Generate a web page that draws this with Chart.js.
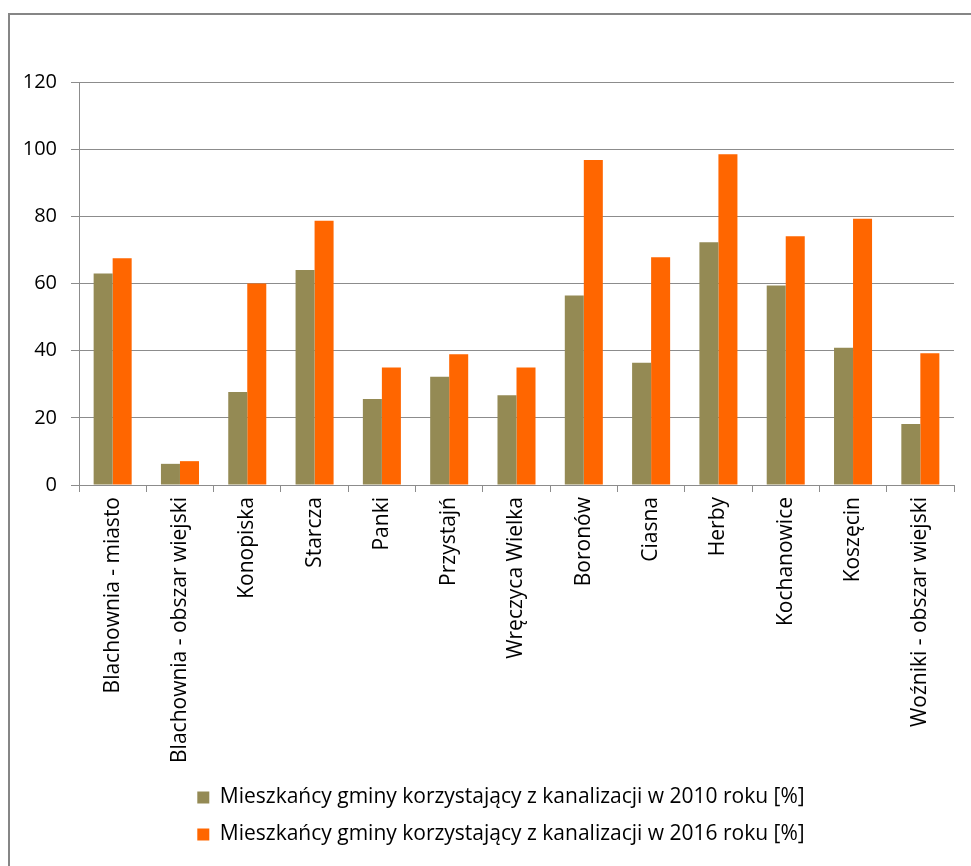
<!DOCTYPE html>
<html>
<head>
<meta charset="utf-8">
<script src="https://cdn.jsdelivr.net/npm/chart.js@4.4.1/dist/chart.umd.min.js"></script>
<style>
    html, body { margin: 0; padding: 0; background: #fff; }
    #frame {
        position: absolute;
        left: 8px;
        top: 13px;
        width: 963px;
        height: 853px;
        border-left: 2px solid #868686;
        border-top: 2px solid #868686;
    }
    #frame canvas { display: block; }
</style>
</head>
<body>
<div id="frame"><canvas id="sewerChart" width="961" height="851"></canvas></div>
<script>
// Gminy (categories)
const gminy = [
    'Blachownia - miasto',
    'Blachownia - obszar wiejski',
    'Konopiska',
    'Starcza',
    'Panki',
    'Przystajń',
    'Wręczyca Wielka',
    'Boronów',
    'Ciasna',
    'Herby',
    'Kochanowice',
    'Koszęcin',
    'Woźniki - obszar wiejski'
];

// Share of residents using sewerage [%]
const values2010 = [63.0, 6.3, 27.7, 64.0, 25.6, 32.2, 26.7, 56.4, 36.4, 72.3, 59.4, 40.9, 18.2];
const values2016 = [67.5, 7.1, 60.0, 78.7, 35.0, 38.9, 35.0, 96.8, 67.8, 98.5, 74.1, 79.3, 39.2];

const seriesLabels = [
    'Mieszkańcy gminy korzystający z kanalizacji w 2010 roku [%]',
    'Mieszkańcy gminy korzystający z kanalizacji w 2016 roku [%]'
];

const yTicks = [0, 20, 40, 60, 80, 100, 120];

const lineGray = '#8c8c8c';
const fontFamily = "'Open Sans', 'Noto Sans', sans-serif";

Chart.defaults.font.family = fontFamily;
Chart.defaults.color = '#000';

// y labels sit in the left padding, so widen the y scale box after layout
// (otherwise its tick labels get clipped)
const widenYAxis = {
    id: 'widenYAxis',
    afterLayout(chart) {
        chart.scales.y.left = 0;
    }
};

new Chart(document.getElementById('sewerChart'), {
    type: 'bar',
    data: {
        labels: gminy,
        datasets: [
            {
                label: seriesLabels[0],
                data: values2010,
                backgroundColor: '#948a54',
                borderWidth: 0
            },
            {
                label: seriesLabels[1],
                data: values2016,
                backgroundColor: '#ff6600',
                borderWidth: 0
            }
        ]
    },
    plugins: [widenYAxis],
    options: {
        responsive: false,
        animation: false,
        datasets: {
            bar: {
                categoryPercentage: 0.565,
                barPercentage: 1.0
            }
        },
        layout: {
            // left padding shifts the centred legend to the right
            padding: { top: 67, right: 17, bottom: 11, left: 38 }
        },
        scales: {
            x: {
                grid: {
                    offset: true,
                    drawOnChartArea: false,
                    drawTicks: true,
                    tickLength: 7,
                    color: lineGray
                },
                border: { display: true, color: lineGray },
                ticks: {
                    minRotation: 90,
                    maxRotation: 90,
                    autoSkip: false,
                    padding: 5,
                    font: { size: 21 }
                },
                afterFit: (scale) => { scale.height = 286; }
            },
            y: {
                min: 0,
                max: 120,
                afterBuildTicks: (scale) => {
                    scale.ticks = yTicks.map(v => ({ value: v }));
                },
                grid: {
                    color: lineGray,
                    drawTicks: true,
                    tickLength: 8
                },
                border: { display: true, color: lineGray },
                ticks: {
                    padding: 14,
                    font: { size: 20 }
                },
                afterFit: (scale) => { scale.width = 31; }
            }
        },
        plugins: {
            legend: {
                position: 'bottom',
                labels: {
                    boxWidth: 12,
                    boxHeight: 12,
                    padding: 16,
                    font: { size: 21 }
                }
            },
            tooltip: { enabled: false }
        }
    }
});
</script>
</body>
</html>
